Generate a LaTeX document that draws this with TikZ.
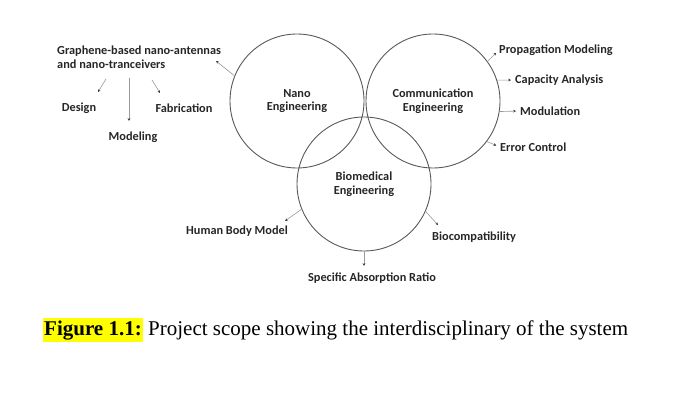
\documentclass[tikz,border=0pt]{standalone}
\usepackage{fontspec}
\setmainfont{Liberation Serif}
\newfontfamily\calibri{Carlito}
\usetikzlibrary{arrows.meta}

\definecolor{hilite}{HTML}{FFFF00}

\tikzset{
  area/.style={circle, draw=black!65, line width=0.9pt, minimum size=134pt,
    inner sep=0pt, align=center, text=black!85,
    font=\calibri\bfseries\fontsize{12.3}{13.5}\selectfont},
  topic/.style={inner sep=0pt, text=black!85,
    font=\calibri\bfseries\fontsize{12.3}{14}\selectfont},
  lnk/.style={draw=black!40, line width=0.6pt,
    -{Stealth[length=2.8pt,width=2.6pt,black!80]}},
}

\begin{document}
\begin{tikzpicture}[x=1pt,y=-1pt]
  \useasboundingbox (0,0) rectangle (700,406);
  % Circles
  \node[area] (nano) at (297,101) {Nano\\Engineering};
  \node[area] (comm) at (433,101) {Communication\\Engineering};
  \node[area] (bio) at (364,184) {Biomedical\\Engineering};
  % Nodes
  \node[topic, anchor=west, align=left] (graphene) at (57,57) {Graphene-based nano-antennas\\and nano-tranceivers};
  \node[topic] (design) at (79,108) {Design};
  \node[topic] (fabric) at (184,108) {Fabrication};
  \node[topic] (model) at (133,137) {Modeling};
  \node[topic, anchor=west] (prop) at (499,50) {Propagation Modeling};
  \node[topic, anchor=west] (capac) at (515,80) {Capacity Analysis};
  \node[topic, anchor=west] (modul) at (520,111) {Modulation};
  \node[topic, anchor=west] (error) at (500,147) {Error Control};
  \node[topic] (human) at (237,231) {Human Body Model};
  \node[topic, anchor=west] (biocomp) at (432,237) {Biocompatibility};
  \node[topic] (sar) at (372,278) {Specific Absorption Ratio};
  % Arrow ends
  \coordinate (g1) at (106,79);
  \coordinate (g2) at (129,78);
  \coordinate (g3) at (152,80);
  \coordinate (t1) at (98,92);
  \coordinate (t2) at (129,121);
  \coordinate (t3) at (160,93);
  \coordinate (t4) at (216,61);
  \coordinate (t5) at (285,221);
  \coordinate (t6) at (438,225);
  \coordinate (t7) at (364,266);
  % Edges
  \draw[lnk] (g1) -- (t1);
  \draw[lnk] (g2) -- (t2);
  \draw[lnk] (g3) -- (t3);
  \draw[lnk] (nano.158) -- (t4);
  \draw[lnk, shorten >=4pt] (comm.36) -- (prop.west);
  \draw[lnk, shorten >=4pt] (comm.18) -- (capac.west);
  \draw[lnk, shorten >=4pt] (comm.-9) -- (modul.west);
  \draw[lnk, shorten >=4pt] (comm.-37) -- (error.west);
  \draw[lnk] (bio.202) -- (t5);
  \draw[lnk] (bio.-24) -- (t6);
  \draw[lnk] (bio.south) -- (t7);
  % Caption
  \node[anchor=base west, fill=hilite, inner xsep=1pt, inner ysep=2.5pt,
    font=\bfseries\fontsize{21}{24}\selectfont] (figlbl) at (43,335) {Figure 1.1:};
  \node[anchor=base west, inner sep=0pt, font=\fontsize{21}{24}\selectfont]
    (caption) at ([xshift=5pt]figlbl.base east) {Project scope showing the interdisciplinary of the system};
\end{tikzpicture}
\end{document}
